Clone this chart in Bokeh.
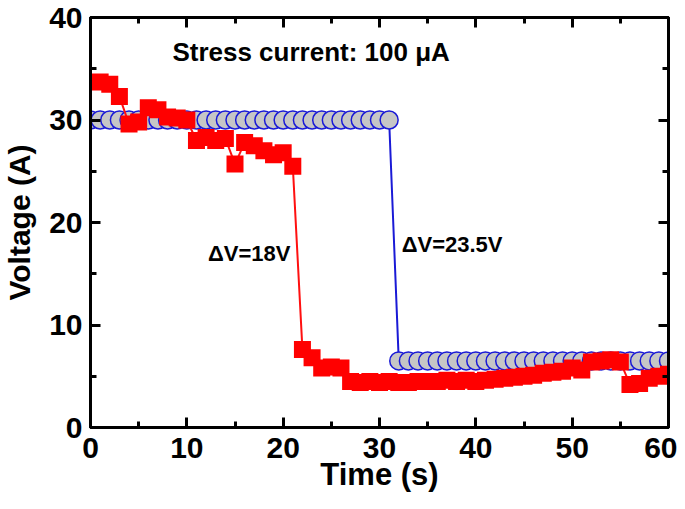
from bokeh.plotting import figure
from bokeh.models import LinearAxis, Range1d, Label, FixedTicker
from bokeh.embed import file_html
from bokeh.resources import INLINE

# ---- data ----
red_t = list(range(1, 61))
red_v = [33.7, 33.5, 32.3, 29.6, 29.8, 31.2, 31.0, 30.3, 30.2, 30.0,
         28.0, 28.3, 28.0, 28.2, 25.7, 27.8, 27.5, 27.0, 26.6, 26.8,
         25.5, 7.6, 6.8, 5.8, 5.9, 5.8, 4.5, 4.4, 4.5, 4.4,
         4.5, 4.4, 4.4, 4.5, 4.5, 4.5, 4.6, 4.5, 4.6, 4.5,
         4.6, 4.7, 4.8, 4.9, 5.0, 5.1, 5.3, 5.4, 5.5, 5.8,
         5.6, 6.4, 6.5, 6.6, 6.4, 4.2, 4.3, 4.8, 5.0, 5.2]

blue_t = list(range(0, 61))
blue_v = [30.0] * 32 + [6.5] * 29

x_ticks = [0, 10, 20, 30, 40, 50, 60]
y_ticks = [0, 10, 20, 30, 40]
x_minor = [5, 15, 25, 35, 45, 55]
y_minor = [5, 15, 25, 35]

FONT = "Liberation Sans"

p = figure(width=677, height=501,
           min_border_left=88, min_border_right=9, min_border_top=17, min_border_bottom=74,
           x_range=Range1d(0, 60), y_range=Range1d(0, 40),
           output_backend="svg", toolbar_location=None, tools="")
p.background_fill_color = "white"
p.border_fill_color = "white"
p.xgrid.visible = False
p.ygrid.visible = False
p.outline_line_color = "black"
p.outline_line_width = 3

# blue series
p.line(blue_t, blue_v, line_color="#1a1ad6", line_width=2)
p.scatter(blue_t, blue_v, marker="circle", size=18,
          fill_color="#c6c6c6", line_color="#1a1ad6", line_width=1.5)
# red series
p.line(red_t, red_v, line_color="#ff1010", line_width=2)
p.scatter(red_t, red_v, marker="square", size=17,
          fill_color="#ff0000", line_color="#ff0000", line_width=0)

def style_axis(ax, labels=True):
    ax.axis_line_color = "black"
    ax.axis_line_width = 3
    ax.major_tick_line_color = "black"
    ax.major_tick_line_width = 3
    ax.minor_tick_line_color = "black"
    ax.minor_tick_line_width = 3
    ax.major_tick_in = 10
    ax.major_tick_out = 0
    ax.minor_tick_in = 6
    ax.minor_tick_out = 0
    ax.major_label_text_font = FONT
    ax.major_label_text_font_style = "bold"
    ax.major_label_text_font_size = "30px" if labels else "0px"
    ax.major_label_text_color = "black" if labels else None
    ax.axis_label_text_font = FONT
    ax.axis_label_text_font_style = "bold"
    ax.axis_label_text_color = "black"

xa = p.xaxis[0]
ya = p.yaxis[0]
style_axis(xa)
style_axis(ya)
xa.ticker = FixedTicker(ticks=x_ticks, minor_ticks=x_minor)
ya.ticker = FixedTicker(ticks=y_ticks, minor_ticks=y_minor)
xa.axis_label = "Time (s)"
ya.axis_label = "Voltage (A)"
xa.axis_label_text_font_size = "31px"
ya.axis_label_text_font_size = "30px"
xa.major_label_standoff = 10
ya.major_label_standoff = 8
xa.axis_label_standoff = -4
ya.axis_label_standoff = 10

top = LinearAxis()
right = LinearAxis()
style_axis(top, labels=False)
style_axis(right, labels=False)
top.ticker = FixedTicker(ticks=x_ticks, minor_ticks=x_minor)
right.ticker = FixedTicker(ticks=y_ticks, minor_ticks=y_minor)
p.add_layout(top, "above")
p.add_layout(right, "right")

def add_label(x, y, txt, size):
    p.add_layout(Label(x=x, y=y, text=txt, text_font=FONT, text_font_style="bold",
                       text_font_size=size, text_color="black",
                       text_baseline="middle", text_align="left"))

add_label(8.5, 36.6, "Stress current: 100 \u03bcA", "26px")
add_label(12.2, 17.0, "\u0394V=18V", "22px")
add_label(32.3, 17.9, "\u0394V=23.5V", "22px")

open("out.html", "w").write(file_html(p, INLINE))
